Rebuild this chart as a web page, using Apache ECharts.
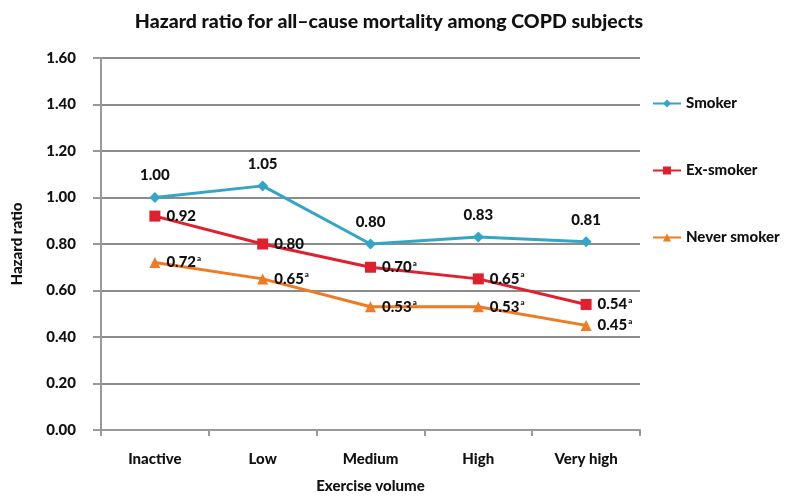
<!DOCTYPE html>
<html><head><meta charset="utf-8">
<script src="https://cdn.jsdelivr.net/npm/echarts@6/dist/echarts.min.js"></script>
<style>html,body{margin:0;padding:0;background:#fff}#c{width:795px;height:499px}</style>
</head><body><div id="c"></div>
<script>
const categories = ["Inactive", "Low", "Medium", "High", "Very high"];
const smoker = [1.00, 1.05, 0.80, 0.83, 0.81];
const exSmoker = [0.92, 0.80, 0.70, 0.65, 0.54];
const neverSmoker = [0.72, 0.65, 0.53, 0.53, 0.45];
const exSup = ["", "", "a", "a", "a"];
const neverSup = ["a", "a", "a", "a", "a"];
const yTicks = [0, 0.2, 0.4, 0.6, 0.8, 1.0, 1.2, 1.4, 1.6];

const FONT = "Lato";
const W = 900;
const chart = echarts.init(document.getElementById('c'));
function supLabel(sups) {
  return {
    show: true, position: 'right', distance: 6,
    formatter: p => p.value.toFixed(2) + (sups[p.dataIndex] ? '{s|' + sups[p.dataIndex] + '}' : ''),
    fontFamily: FONT, fontWeight: W, fontSize: 15, color: '#111',
    rich: { s: { fontSize: 8, fontWeight: W, verticalAlign: 'top', padding: [0,0,8,1], color: '#111', fontFamily: FONT } }
  };
}
chart.setOption({
  backgroundColor: '#fff',
  animation: false,
  title: { text: 'Hazard ratio for all–cause mortality among COPD subjects', left: 384, top: 7, textAlign: 'center',
    textStyle: { fontFamily: FONT, fontWeight: W, fontSize: 19.5, color: '#111' } },
  legend: {
    orient: 'vertical', left: 647, top: 91, itemGap: 52, itemWidth: 28, itemHeight: 10,
    textStyle: { fontFamily: FONT, fontWeight: W, fontSize: 15, color: '#111' },
    data: ['Smoker', 'Ex-smoker', 'Never smoker']
  },
  grid: { left: 101, right: 155, top: 58, bottom: 67 },
  xAxis: {
    type: 'category', data: categories, boundaryGap: true,
    name: 'Exercise volume', nameLocation: 'middle', nameGap: 49,
    nameTextStyle: { fontFamily: FONT, fontWeight: W, fontSize: 15, color: '#111' },
    axisLine: { lineStyle: { color: '#999', width: 2 } },
    axisTick: { show: true, length: 6, lineStyle: { color: '#999', width: 2 } },
    axisLabel: { margin: 22, fontFamily: FONT, fontWeight: W, fontSize: 15, color: '#111' }
  },
  yAxis: {
    type: 'value', min: 0, max: 1.6, interval: 0.2,
    name: 'Hazard ratio', nameLocation: 'middle', nameGap: 76,
    nameTextStyle: { fontFamily: FONT, fontWeight: W, fontSize: 15, color: '#111' },
    axisLine: { show: true, lineStyle: { color: '#999', width: 2 } },
    axisTick: { show: true, length: 8, lineStyle: { color: '#999', width: 2 } },
    splitLine: { lineStyle: { color: '#8c8c8c', width: 2 } },
    axisLabel: { margin: 25, fontFamily: FONT, fontWeight: W, fontSize: 15, color: '#111',
      formatter: v => v.toFixed(2) }
  },
  series: [
    { name: 'Smoker', type: 'line', data: smoker, color: '#33a6c6',
      symbol: 'diamond', symbolSize: 11, lineStyle: { width: 3 },
      label: { show: true, position: 'top', distance: 9, formatter: p => p.value.toFixed(2),
        fontFamily: FONT, fontWeight: W, fontSize: 15, color: '#111' } },
    { name: 'Ex-smoker', type: 'line', data: exSmoker, color: '#e0202e',
      symbol: 'rect', symbolSize: 11, lineStyle: { width: 3 }, label: supLabel(exSup) },
    { name: 'Never smoker', type: 'line', data: neverSmoker, color: '#f07a22',
      symbol: 'triangle', symbolSize: 11, lineStyle: { width: 3 }, label: supLabel(neverSup) }
  ]
});
</script></body></html>
